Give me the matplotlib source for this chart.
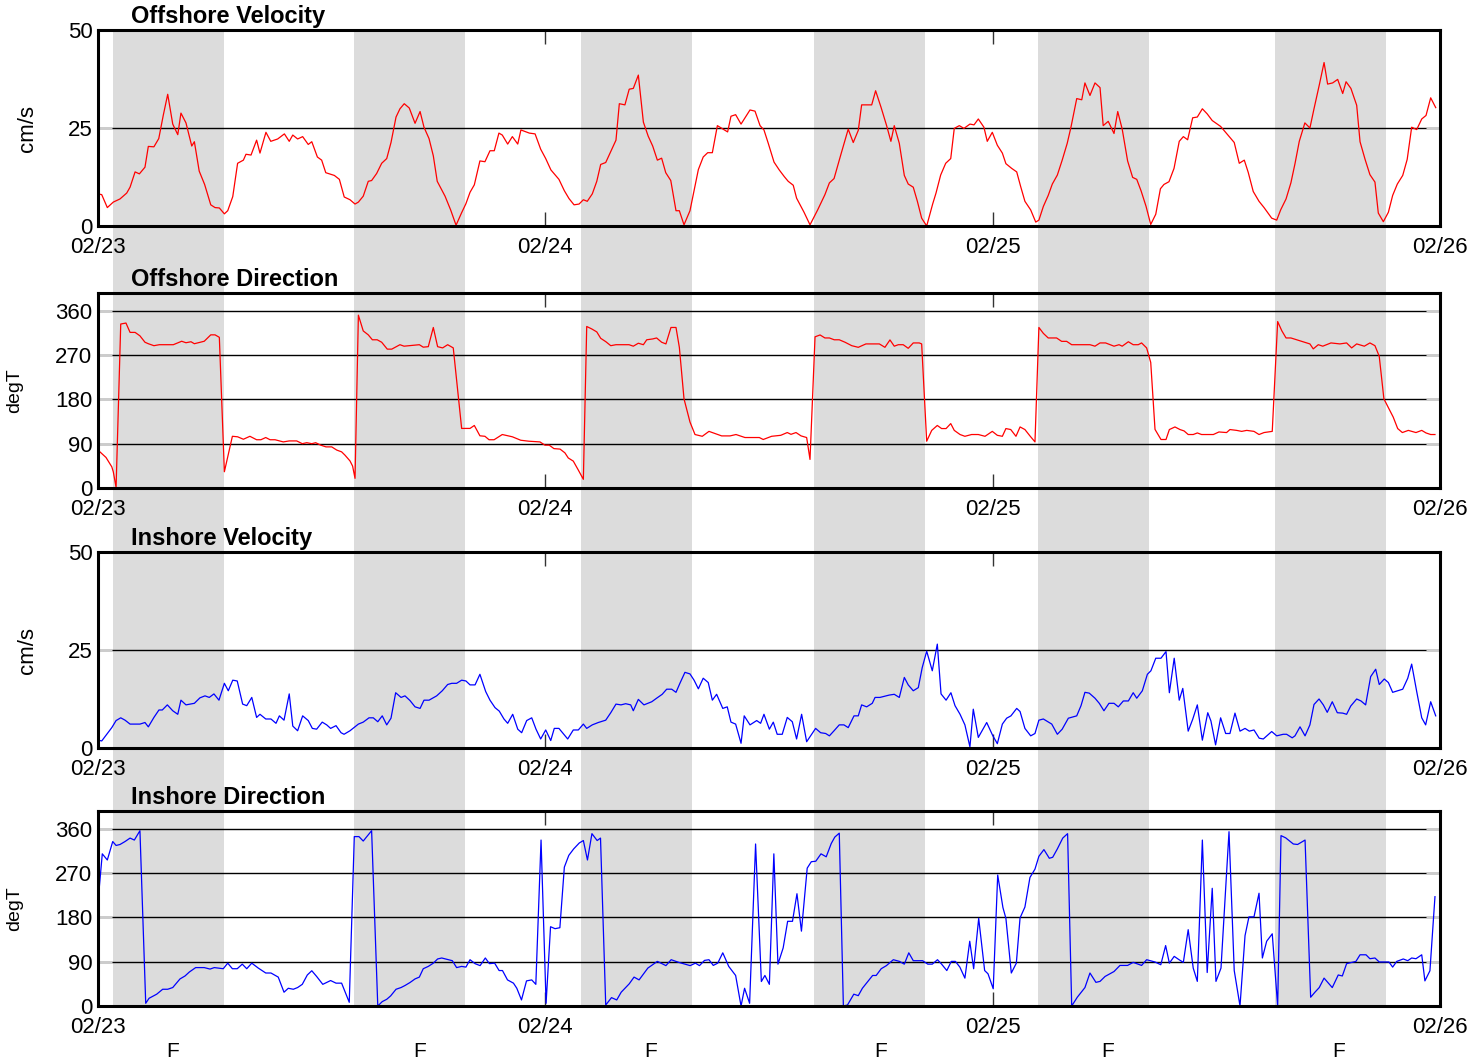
import matplotlib.pyplot as plt

# hours since 02/23 00:00
day_ticks = [0, 24, 48, 72]
day_labels = ['02/23', '02/24', '02/25', '02/26']

# shaded periods (hours) and the "F" marks under the last panel
band_start = [0.80, 13.73, 25.91, 38.41, 50.43, 63.15]
band_end = [6.76, 19.69, 31.87, 44.37, 56.39, 69.10]
flood_t = [4.02, 17.28, 29.67, 42.01, 54.19, 66.58]

# Offshore velocity (cm/s)
off_vel_t = [0.00, 0.20, 0.50, 0.82, 1.18, 1.54, 1.72, 1.99, 2.22, 2.52,
             2.70, 3.00, 3.26, 3.50, 3.74, 4.01, 4.28, 4.45, 4.72, 5.03,
             5.17, 5.43, 5.72, 6.05, 6.28, 6.51, 6.78, 6.96, 7.23, 7.49,
             7.80, 7.94, 8.21, 8.51, 8.69, 9.01, 9.27, 9.64, 10.00, 10.26,
             10.45, 10.71, 10.98, 11.28, 11.47, 11.77, 12.00, 12.22, 12.68, 12.95,
             13.21, 13.52, 13.79, 13.97, 14.23, 14.50, 14.68, 14.95, 15.22, 15.49,
             15.72, 15.99, 16.20, 16.43, 16.70, 17.01, 17.28, 17.49, 17.76, 17.99,
             18.20, 18.62, 18.92, 19.21, 19.51, 19.74, 19.96, 20.19, 20.49, 20.76,
             21.03, 21.26, 21.51, 21.69, 21.98, 22.23, 22.52, 22.69, 23.14, 23.45,
             23.75, 24.02, 24.30, 24.73, 25.02, 25.27, 25.54, 25.81, 26.04, 26.25,
             26.52, 26.76, 26.97, 27.24, 27.51, 27.79, 27.97, 28.27, 28.50, 28.72,
             28.99, 29.26, 29.52, 29.76, 30.01, 30.24, 30.46, 30.73, 31.01, 31.19,
             31.44, 31.76, 32.21, 32.47, 32.71, 32.96, 33.23, 33.78, 33.96, 34.21,
             34.50, 34.98, 35.25, 35.52, 35.73, 35.96, 36.27, 36.55, 36.82, 37.03,
             37.30, 37.48, 37.88, 38.20, 38.61, 39.00, 39.24, 39.49, 39.86, 40.25,
             40.52, 40.79, 40.97, 41.51, 41.72, 42.01, 42.31, 42.54, 42.72, 42.99,
             43.26, 43.47, 43.74, 43.96, 44.19, 44.46, 44.78, 44.96, 45.21, 45.48,
             45.75, 45.94, 46.21, 46.46, 46.78, 47.00, 47.23, 47.53, 47.71, 47.98,
             48.25, 48.52, 48.71, 49.02, 49.29, 49.50, 49.73, 50.04, 50.31, 50.48,
             50.72, 50.98, 51.20, 51.47, 51.73, 52.00, 52.20, 52.51, 52.78, 52.95,
             53.22, 53.49, 53.76, 53.93, 54.20, 54.51, 54.71, 54.95, 55.24, 55.51,
             55.73, 55.96, 56.23, 56.48, 56.75, 57.00, 57.19, 57.46, 57.73, 58.01,
             58.23, 58.46, 58.73, 58.98, 59.25, 59.51, 59.78, 60.23, 60.55, 60.96,
             61.23, 61.50, 61.71, 61.98, 62.29, 62.56, 62.97, 63.24, 63.45, 63.74,
             64.00, 64.22, 64.45, 64.75, 65.02, 65.24, 65.52, 65.78, 65.97, 66.24,
             66.51, 66.78, 66.96, 67.22, 67.53, 67.71, 67.98, 68.24, 68.51, 68.69,
             68.96, 69.23, 69.46, 69.71, 70.00, 70.24, 70.48, 70.75, 71.02, 71.25,
             71.50, 71.77]
off_vel = [8.2, 8.0, 4.7, 6.1, 6.9, 8.4, 9.9, 13.8, 13.3, 15.0,
           20.3, 20.2, 22.3, 28.2, 33.6, 26.0, 23.3, 28.8, 26.3, 20.4,
           21.5, 14.0, 10.6, 5.4, 4.7, 4.6, 3.1, 3.9, 7.5, 16.0,
           16.8, 18.3, 18.1, 21.9, 18.6, 23.9, 21.6, 22.2, 23.5, 21.6,
           23.2, 22.2, 22.8, 20.8, 21.5, 17.6, 16.8, 13.6, 12.9, 11.9,
           7.4, 6.7, 5.6, 6.1, 7.6, 11.4, 11.6, 13.4, 16.0, 17.2,
           21.3, 27.8, 29.9, 31.2, 30.1, 26.2, 29.2, 25.2, 22.3, 17.9,
           11.4, 7.6, 4.1, 0.2, 3.4, 5.7, 8.6, 10.5, 16.6, 16.4,
           19.2, 19.2, 23.7, 23.2, 20.9, 22.8, 20.9, 24.5, 23.7, 23.5,
           19.6, 17.2, 14.3, 11.9, 9.0, 7.0, 5.4, 5.6, 6.7, 6.3,
           8.2, 11.4, 15.7, 16.2, 19.0, 21.9, 31.2, 30.9, 34.9, 35.1,
           38.5, 26.5, 22.9, 20.4, 16.8, 17.3, 13.6, 11.6, 3.9, 3.9,
           0.3, 3.9, 14.4, 17.6, 18.7, 18.7, 25.6, 24.0, 28.0, 28.4,
           26.0, 29.6, 29.3, 25.6, 24.5, 21.1, 16.3, 14.3, 12.6, 11.4,
           10.4, 7.1, 3.5, 0.3, 4.1, 8.0, 11.0, 12.1, 18.3, 24.7,
           21.3, 24.4, 30.9, 30.9, 34.5, 30.3, 25.6, 21.6, 25.6, 21.1,
           12.9, 10.7, 9.9, 6.3, 2.0, 0.0, 5.6, 8.4, 13.0, 16.0,
           17.2, 24.9, 25.6, 24.9, 26.0, 25.8, 27.3, 25.2, 21.6, 23.9,
           20.6, 18.6, 15.9, 14.7, 13.8, 10.1, 6.3, 4.1, 1.0, 1.5,
           5.0, 7.8, 10.7, 13.0, 16.8, 21.1, 25.2, 32.5, 32.2, 36.5,
           33.3, 36.5, 35.3, 25.6, 26.7, 23.6, 29.2, 24.7, 16.6, 12.4,
           11.9, 9.0, 5.0, 0.4, 3.0, 9.5, 10.6, 11.3, 14.7, 21.6,
           22.8, 22.0, 27.6, 27.8, 29.9, 28.6, 26.9, 25.4, 23.6, 21.3,
           16.0, 16.8, 13.7, 8.8, 6.3, 4.7, 2.0, 1.5, 4.1, 6.9,
           11.0, 15.9, 21.6, 26.3, 25.0, 29.9, 35.9, 41.7, 36.2, 36.5,
           37.4, 33.8, 36.8, 35.1, 30.8, 21.5, 17.0, 13.1, 11.2, 3.3,
           1.1, 3.5, 7.8, 10.7, 12.9, 17.0, 25.2, 24.6, 27.3, 28.2,
           32.7, 30.2]

# Offshore direction (degT)
off_dir_t = [0.00, 0.43, 0.74, 0.82, 0.97, 1.22, 1.50, 1.72, 1.99, 2.25,
             2.52, 2.70, 3.00, 3.29, 4.04, 4.49, 4.72, 4.99, 5.17, 5.70,
             6.05, 6.28, 6.51, 6.78, 7.21, 7.49, 7.80, 8.15, 8.51, 8.74,
             9.00, 9.23, 9.50, 9.94, 10.26, 10.66, 10.96, 11.20, 11.47, 11.68,
             11.95, 12.23, 12.54, 12.81, 13.07, 13.25, 13.52, 13.66, 13.79, 13.97,
             14.23, 14.50, 14.72, 14.98, 15.22, 15.52, 15.76, 16.20, 16.42, 17.24,
             17.45, 17.72, 17.99, 18.22, 18.49, 18.76, 19.06, 19.51, 19.96, 20.19,
             20.49, 20.76, 20.98, 21.25, 21.69, 22.23, 22.68, 23.12, 23.71, 23.98,
             24.21, 24.46, 24.79, 25.05, 25.23, 25.50, 25.77, 26.04, 26.22, 26.49,
             26.76, 26.97, 27.25, 27.51, 27.79, 28.49, 28.72, 28.99, 29.26, 29.44,
             29.76, 29.97, 30.24, 30.47, 30.74, 31.01, 31.19, 31.44, 31.76, 32.03,
             32.42, 32.78, 33.10, 33.46, 33.91, 34.23, 34.71, 35.48, 35.69, 36.14,
             36.63, 36.98, 37.18, 37.45, 37.72, 38.02, 38.20, 38.47, 38.74, 39.00,
             39.24, 39.50, 39.77, 40.08, 40.44, 40.79, 41.20, 41.92, 42.22, 42.49,
             42.72, 42.94, 43.20, 43.47, 43.74, 44.06, 44.19, 44.46, 44.73, 45.03,
             45.26, 45.50, 45.75, 45.94, 46.25, 46.51, 46.87, 47.23, 47.59, 47.98,
             48.25, 48.52, 48.71, 48.97, 49.25, 49.47, 49.73, 50.00, 50.27, 50.48,
             50.72, 50.98, 51.43, 51.70, 51.97, 52.24, 53.22, 53.49, 53.76, 54.06,
             54.51, 54.78, 54.95, 55.28, 55.54, 55.81, 55.99, 56.26, 56.48, 56.71,
             57.03, 57.30, 57.48, 57.78, 58.05, 58.27, 58.49, 58.76, 58.98, 59.21,
             59.84, 60.14, 60.55, 60.73, 61.09, 61.36, 61.63, 62.02, 62.29, 62.56,
             63.00, 63.29, 63.51, 63.74, 64.00, 65.02, 65.20, 65.47, 65.71, 66.15,
             66.63, 66.99, 67.26, 67.53, 67.94, 68.24, 68.51, 68.74, 68.99, 69.49,
             69.73, 69.98, 70.30, 70.71, 71.02, 71.25, 71.50, 71.73]
off_dir = [77, 62, 43, 33, 1.4, 333, 335, 316, 316, 309,
           296, 293, 289, 291, 291, 298, 295, 297, 293, 298,
           311, 311, 306, 33, 105, 104, 99, 105, 98, 98,
           102.5, 98, 98, 93.6, 95.6, 95.6, 90, 92, 90, 92,
           87, 83.5, 83.5, 77, 73.4, 66.7, 55, 44.5, 19.6, 351,
           319, 311, 301, 301, 296, 282, 282, 291, 288, 291,
           286, 287, 326, 287, 284.5, 291, 284.5, 121, 121, 127,
           106, 105, 98, 98, 108.6, 104, 97, 95, 93.6, 87,
           87, 80, 79, 71.4, 61, 54.6, 36.4, 17.6, 328, 323,
           317, 304, 297, 289, 291, 291, 288, 294, 291, 301,
           302.7, 304.7, 296, 292.6, 326, 326, 285.7, 181, 134, 108.6,
           105, 115, 110.6, 105.8, 105.8, 108.6, 102.5, 102.5, 98.5, 105,
           107, 112.6, 109, 112.6, 105.8, 102.5, 58, 307, 310.8, 304.7,
           304.7, 301, 301, 296, 289, 285.7, 292.6, 292.6, 285.7, 300.7,
           288, 291, 291, 283.7, 294.6, 294.6, 292.6, 95, 117, 127,
           120.7, 120.7, 130.8, 117, 108.6, 105, 108.6, 108.6, 105, 115,
           107, 105, 120.7, 118.7, 105, 124, 118.7, 105.8, 93.6, 326,
           314, 304.7, 304.7, 297.8, 297.8, 291, 291, 288, 294.6, 294.6,
           288, 291, 288, 297, 291, 291, 294.6, 284.5, 255, 119,
           98.5, 98.5, 118.7, 124, 118.7, 115.9, 108.6, 108.6, 111.8, 108.6,
           108.6, 113.8, 112.6, 118.7, 117, 115, 117, 115, 108.6, 112.6,
           115, 338, 319.5, 304.7, 304.7, 292.6, 282.5, 291, 288, 294.6,
           292.6, 294.6, 284.5, 292.6, 288, 294.6, 289, 267.5, 181, 144,
           120.7, 112.6, 117, 112.6, 117, 111.8, 108.6, 108.6]

# Inshore velocity (cm/s)
in_vel_t = [0.00, 0.20, 0.74, 0.97, 1.22, 1.45, 1.72, 2.25, 2.52, 2.70,
            3.00, 3.27, 3.45, 3.72, 4.01, 4.28, 4.45, 4.72, 5.17, 5.47,
            5.74, 5.97, 6.22, 6.49, 6.78, 6.99, 7.23, 7.47, 7.76, 7.98,
            8.25, 8.51, 8.69, 9.00, 9.28, 9.55, 9.73, 9.98, 10.26, 10.45,
            10.71, 10.98, 11.28, 11.50, 11.73, 12.03, 12.27, 12.48, 12.77, 13.04,
            13.20, 13.52, 13.97, 14.23, 14.54, 14.77, 15.01, 15.25, 15.49, 15.72,
            15.97, 16.26, 16.47, 16.74, 17.01, 17.28, 17.49, 17.76, 18.17, 18.47,
            18.76, 18.98, 19.24, 19.51, 19.74, 19.96, 20.23, 20.49, 20.80, 21.03,
            21.30, 21.53, 21.78, 21.98, 22.25, 22.52, 22.73, 23.00, 23.27, 23.50,
            23.75, 24.02, 24.29, 24.48, 24.73, 25.20, 25.50, 25.77, 26.04, 26.22,
            26.52, 26.84, 27.24, 27.51, 27.79, 28.06, 28.31, 28.58, 28.72, 28.99,
            29.29, 29.71, 29.97, 30.27, 30.51, 30.78, 31.01, 31.22, 31.49, 31.76,
            31.98, 32.21, 32.47, 32.74, 32.96, 33.19, 33.52, 33.76, 33.96, 34.21,
            34.50, 34.67, 34.98, 35.34, 35.55, 35.73, 36.02, 36.23, 36.44, 36.71,
            36.98, 37.25, 37.48, 37.75, 38.02, 38.50, 38.77, 39.04, 39.24, 39.49,
            39.77, 40.02, 40.25, 40.56, 40.79, 40.97, 41.24, 41.54, 41.69, 41.95,
            42.45, 42.72, 42.99, 43.26, 43.47, 43.74, 44.01, 44.22, 44.46, 44.76,
            45.03, 45.23, 45.50, 45.76, 45.98, 46.25, 46.51, 46.78, 46.96, 47.23,
            47.68, 48.00, 48.25, 48.52, 48.75, 48.98, 49.29, 49.47, 49.73, 50.04,
            50.27, 50.48, 50.72, 51.17, 51.47, 51.73, 52.06, 52.51, 52.74, 52.95,
            53.18, 53.49, 53.72, 53.97, 54.24, 54.51, 54.74, 55.01, 55.28, 55.54,
            55.73, 56.03, 56.30, 56.49, 56.75, 57.03, 57.30, 57.48, 57.74, 58.01,
            58.20, 58.49, 58.73, 58.98, 59.25, 59.54, 59.71, 59.96, 60.23, 60.50,
            60.73, 61.00, 61.27, 61.54, 61.77, 62.02, 62.30, 62.52, 62.97, 63.24,
            63.59, 63.77, 64.07, 64.22, 64.49, 64.76, 65.02, 65.24, 65.51, 65.74,
            65.95, 66.22, 66.49, 66.78, 66.99, 67.21, 67.53, 67.76, 68.01, 68.28,
            68.55, 68.74, 69.01, 69.23, 69.46, 70.00, 70.27, 70.48, 70.75, 71.02,
            71.23, 71.50, 71.77]
in_vel = [2.0, 1.8, 5.2, 7.0, 7.7, 7.1, 6.1, 6.1, 6.5, 5.4,
          7.8, 9.7, 9.7, 11.0, 9.5, 8.6, 12.2, 11.0, 11.4, 12.8,
          13.3, 12.9, 13.8, 12.2, 16.5, 14.6, 17.3, 17.1, 11.2, 10.8,
          12.9, 7.8, 8.6, 7.4, 7.4, 6.3, 8.2, 7.1, 13.8, 5.6,
          4.4, 8.2, 7.0, 5.0, 4.8, 6.6, 5.9, 5.0, 5.7, 3.9,
          3.5, 4.4, 6.1, 6.6, 7.7, 7.7, 6.7, 8.2, 5.9, 7.6,
          14.1, 12.9, 13.3, 12.1, 10.5, 10.1, 12.2, 12.2, 13.3, 14.6,
          16.2, 16.5, 16.5, 17.3, 17.1, 16.1, 16.1, 18.8, 14.4, 12.2,
          10.3, 9.4, 7.4, 6.3, 8.6, 4.8, 3.9, 7.0, 7.7, 4.8,
          2.3, 4.6, 1.9, 5.0, 5.0, 2.3, 4.6, 4.6, 6.1, 5.0,
          5.9, 6.5, 7.1, 9.0, 11.2, 11.0, 11.3, 11.0, 9.5, 12.4,
          11.0, 11.8, 12.7, 13.7, 15.0, 15.0, 14.2, 16.5, 19.3, 18.9,
          17.3, 15.1, 17.8, 16.7, 12.2, 13.7, 10.1, 10.5, 6.6, 6.1,
          1.2, 8.2, 5.9, 7.0, 6.3, 8.6, 4.8, 6.6, 3.5, 3.5,
          7.8, 6.7, 2.3, 8.6, 1.6, 5.0, 3.9, 3.7, 3.1, 4.4,
          5.9, 5.9, 5.2, 8.2, 8.2, 11.0, 10.5, 11.4, 12.9, 12.9,
          13.5, 13.7, 12.9, 18.0, 16.1, 14.6, 15.4, 20.5, 24.7, 19.7,
          26.5, 13.8, 12.2, 14.1, 10.8, 8.6, 5.9, 0.3, 9.9, 2.7,
          6.5, 3.2, 1.1, 6.1, 7.6, 8.2, 10.1, 9.3, 5.0, 3.1,
          3.7, 7.1, 7.4, 6.1, 3.5, 4.8, 7.6, 8.2, 10.8, 14.2,
          14.0, 12.7, 11.4, 9.5, 11.4, 11.4, 10.5, 12.0, 12.0, 14.1,
          12.7, 14.6, 18.8, 19.7, 22.9, 22.9, 24.6, 14.1, 22.9, 12.2,
          15.2, 4.3, 7.3, 11.0, 2.0, 9.0, 6.9, 0.8, 7.7, 3.7,
          3.7, 8.9, 4.3, 5.0, 4.3, 4.6, 2.5, 2.3, 4.2, 3.1,
          3.5, 3.5, 2.6, 3.1, 5.4, 3.1, 5.9, 11.1, 12.5, 11.0,
          9.1, 11.8, 9.0, 8.9, 8.6, 10.7, 12.5, 12.0, 11.0, 18.2,
          20.1, 16.2, 17.6, 16.7, 14.2, 15.0, 17.8, 21.4, 14.4, 7.7,
          5.9, 11.8, 8.2]

# Inshore direction (degT)
in_dir_t = [0.00, 0.23, 0.50, 0.79, 0.97, 1.18, 1.45, 1.72, 1.95, 2.25,
            2.56, 2.74, 3.15, 3.47, 3.74, 4.01, 4.40, 4.67, 4.90, 5.24,
            5.70, 6.01, 6.24, 6.72, 6.96, 7.21, 7.47, 7.74, 7.98, 8.25,
            8.60, 9.00, 9.28, 9.67, 9.98, 10.21, 10.48, 10.71, 10.96, 11.23,
            11.47, 11.73, 12.06, 12.48, 12.77, 13.07, 13.48, 13.75, 14.00, 14.23,
            14.68, 15.01, 15.25, 15.49, 15.70, 15.99, 16.26, 16.47, 16.74, 17.01,
            17.24, 17.45, 17.72, 17.99, 18.22, 18.44, 18.79, 19.01, 19.24, 19.51,
            19.74, 19.96, 20.23, 20.50, 20.78, 21.00, 21.28, 21.52, 21.70, 21.97,
            22.29, 22.47, 22.72, 22.99, 23.27, 23.49, 23.77, 24.04, 24.28, 24.52,
            24.78, 25.02, 25.26, 25.52, 25.82, 26.04, 26.26, 26.50, 26.78, 26.96,
            27.24, 27.55, 27.83, 28.07, 28.50, 28.76, 29.03, 29.50, 30.01, 30.47,
            30.75, 31.16, 31.77, 32.05, 32.27, 32.54, 32.78, 33.01, 33.25, 33.52,
            33.84, 34.21, 34.50, 34.69, 34.96, 35.28, 35.59, 35.78, 36.02, 36.26,
            36.48, 36.76, 37.00, 37.26, 37.50, 37.74, 38.05, 38.27, 38.51, 38.79,
            39.07, 39.34, 39.53, 39.77, 39.99, 40.21, 40.55, 40.79, 41.01, 41.34,
            41.56, 41.75, 42.02, 42.30, 42.67, 43.00, 43.26, 43.50, 43.74, 44.24,
            44.52, 44.76, 45.04, 45.26, 45.54, 45.78, 46.00, 46.24, 46.51, 46.77,
            46.98, 47.25, 47.57, 47.75, 48.03, 48.27, 48.55, 48.71, 49.00, 49.27,
            49.47, 49.73, 50.00, 50.27, 50.48, 50.75, 51.04, 51.22, 51.47, 51.76,
            52.02, 52.24, 52.54, 52.95, 53.22, 53.54, 53.76, 54.03, 54.51, 54.83,
            55.24, 55.54, 55.99, 56.26, 56.71, 57.02, 57.28, 57.48, 57.74, 58.00,
            58.23, 58.49, 58.76, 58.98, 59.25, 59.51, 59.78, 59.98, 60.25, 60.68,
            60.96, 61.27, 61.54, 61.75, 62.02, 62.29, 62.47, 62.70, 63.00, 63.29,
            63.47, 63.72, 64.13, 64.36, 64.76, 65.06, 65.29, 65.52, 65.78, 66.22,
            66.54, 66.76, 66.99, 67.49, 67.71, 68.03, 68.24, 68.51, 68.74, 69.26,
            69.46, 69.68, 70.03, 70.27, 70.48, 70.71, 71.02, 71.19, 71.46, 71.73]
in_dir = [211, 309, 296.5, 334, 326, 328, 334, 341, 337, 356,
          5.5, 15.7, 24, 34, 34, 37.5, 55, 61, 69, 78,
          78, 75, 78, 75.7, 87, 75.7, 75.7, 85, 75.7, 87,
          77, 67, 67, 58.7, 28, 36, 34, 37.5, 44, 63,
          71.6, 60, 44, 51.7, 46.4, 46.4, 7.5, 344, 344, 335,
          356, 0, 8.9, 13.6, 20.5, 34, 37.5, 41.6, 47.7, 55,
          58.7, 75.7, 80.4, 87, 95.5, 97.5, 94, 92, 78, 80.4,
          79, 94, 86, 82, 97.5, 86, 87, 72, 72, 53,
          46.4, 36, 12.3, 51, 53, 44, 337, 5.5, 161, 157,
          159, 282, 306, 319, 331, 336, 296.5, 350, 336, 341,
          2, 17, 12.3, 28, 45, 58.7, 53, 77, 90.6, 82,
          94, 88.6, 82, 87, 82, 92.6, 94, 82.4, 87, 108,
          80.4, 62, 0, 36, 5.5, 329, 49.7, 62, 44, 309,
          85, 118, 172, 172, 228, 152, 280, 293, 294, 309,
          303, 330, 343, 351, 0, 2, 24, 21, 36, 51.7,
          62, 62, 75.7, 82, 94, 90.6, 85, 108, 92, 92,
          85, 85, 94, 85, 72, 90.6, 90.6, 79, 56.6, 131.5,
          75.7, 178, 72, 65.4, 35, 266, 200, 178, 67, 87,
          179, 201, 261, 278, 304, 317.6, 300, 302, 319, 341,
          350, 0, 17.8, 37.4, 67, 48, 50, 60, 70, 82.4,
          82.4, 88.6, 82.4, 94, 89.4, 83.8, 122.7, 87, 100.8, 94,
          88.6, 155, 77, 50, 337, 68, 239, 50, 77, 354,
          72, 0, 143, 181, 181, 229, 97.5, 131.5, 146.6, 0,
          346, 341.5, 329, 328, 337, 17.8, 28, 37.4, 56.6, 37.4,
          63, 61, 86, 90.6, 104, 104, 96, 97.5, 89.4, 89.4,
          79, 90.6, 95.5, 92, 97.5, 96, 104, 51, 71.6, 222]

assert len(off_vel_t) == len(off_vel)
assert len(off_dir_t) == len(off_dir)
assert len(in_vel_t) == len(in_vel)
assert len(in_dir_t) == len(in_dir)

plt.rcParams['font.family'] = ['Liberation Sans', 'DejaVu Sans']

W, H = 1477, 1062
fig = plt.figure(figsize=(W / 100, H / 100), dpi=100)


def box(left, top, right, bottom):
    # pixel box -> figure fraction
    return [left / W, 1 - bottom / H, (right - left) / W, (bottom - top) / H]


# grey bands behind all four panels
bg = fig.add_axes(box(98, 30, 1440, 1008))
bg.set_xlim(0, 72)
bg.axis('off')
for s, e in zip(band_start, band_end):
    bg.axvspan(s, e, color='#dcdcdc', lw=0)

panels = [
    ('Offshore Velocity', off_vel_t, off_vel, 'red', 'cm/s', (30, 226), 50, [0, 25, 50]),
    ('Offshore Direction', off_dir_t, off_dir, 'red', 'degT', (293, 488), 396, [0, 90, 180, 270, 360]),
    ('Inshore Velocity', in_vel_t, in_vel, 'blue', 'cm/s', (552, 748), 50, [0, 25, 50]),
    ('Inshore Direction', in_dir_t, in_dir, 'blue', 'degT', (811, 1006), 396, [0, 90, 180, 270, 360]),
]

for title, t, v, col, unit, (top, bot), ymax, yt in panels:
    ax = fig.add_axes(box(98, top, 1440, bot))
    ax.set_facecolor('none')
    for y in yt:
        ax.axhline(y, color='black', lw=1.0, zorder=1)
    ax.plot(t, v, color=col, lw=0.9, zorder=2)
    ax.set_xlim(0, 72)
    ax.set_ylim(0, ymax)
    ax.set_xticks(day_ticks)
    ax.set_xticklabels(day_labels)
    ax.set_yticks(yt)
    ax.tick_params(axis='x', direction='in', length=10, width=1, color='#333333',
                   labelsize=16, pad=8, top=True)
    ax.tick_params(axis='y', direction='in', length=10, width=1, color='#cccccc',
                   labelsize=16, pad=4, right=True)
    for sp in ax.spines.values():
        sp.set_linewidth(2.2)
        sp.set_zorder(3)
    ax.text(33 / 1342, 1 + 7 / (bot - top), title, transform=ax.transAxes,
            fontsize=17, fontweight='bold', ha='left', va='baseline')
    if unit == 'cm/s':
        fig.text(27 / W, 1 - (top + bot) / 2 / H, unit, rotation=90,
                 ha='center', va='center', fontsize=16)
    else:
        fig.text(15 / W, 1 - (top + bot) / 2 / H, unit, rotation=90,
                 ha='center', va='center', fontsize=14)

for ft in flood_t:
    ax.text(ft, -0.26, 'F', transform=ax.get_xaxis_transform(),
            ha='center', va='baseline', fontsize=15)

fig.savefig('out.png', dpi=100)
